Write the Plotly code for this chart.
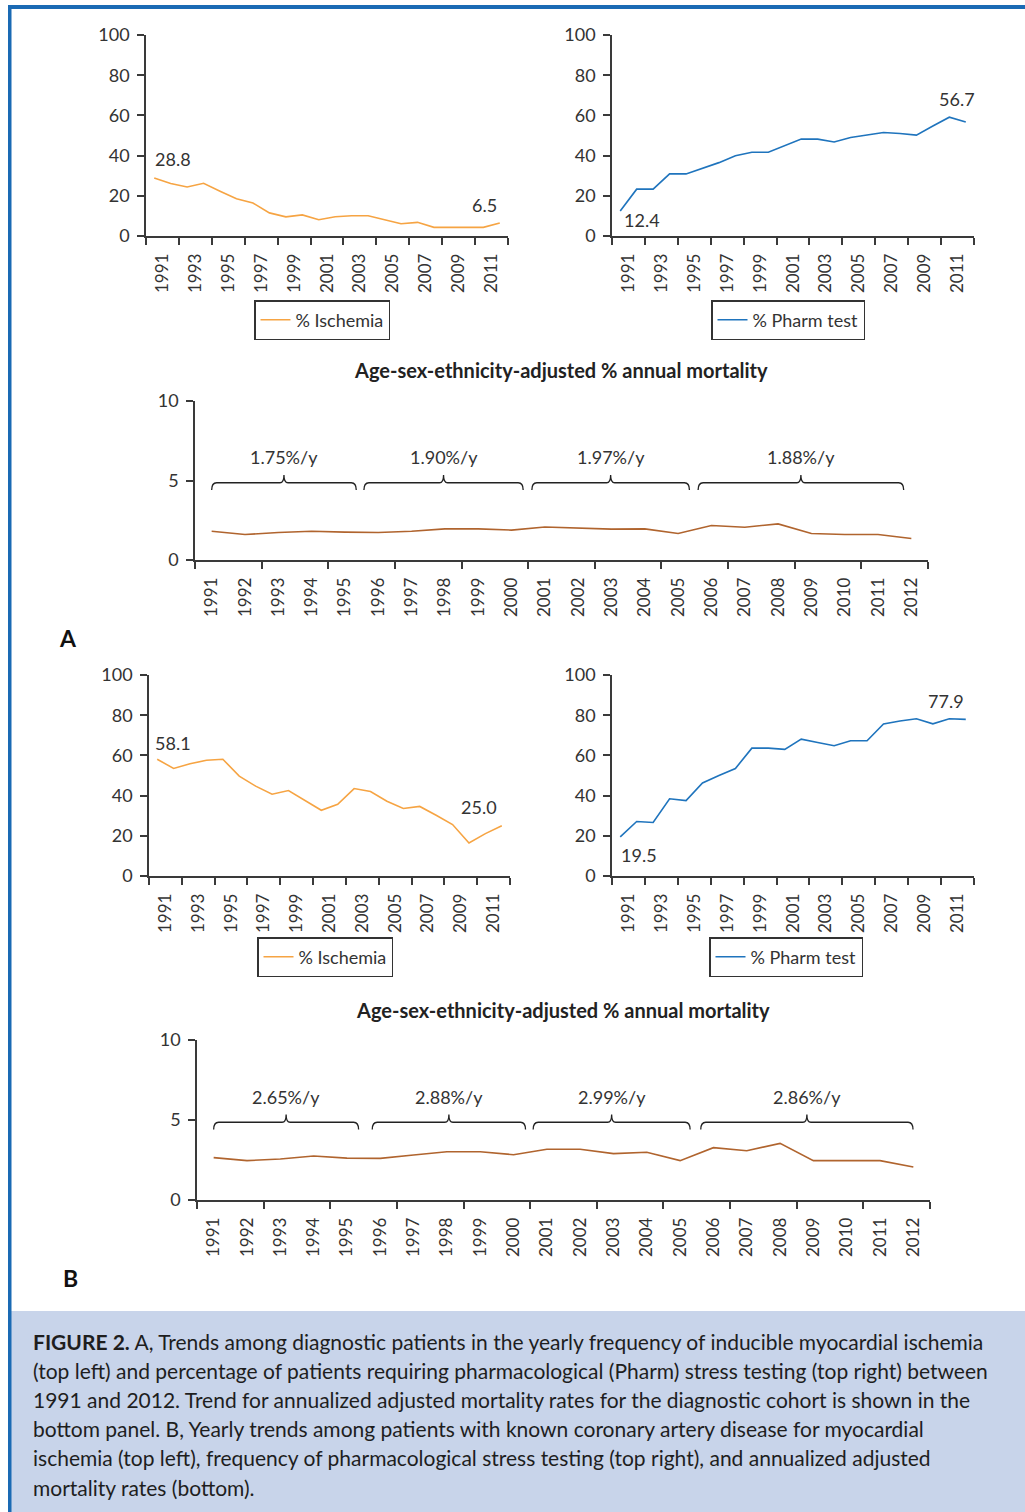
import plotly.graph_objects as go

# ---------------- data ----------------
years = list(range(1991, 2013))

ischemia_A = [28.8, 26.1, 24.4, 26.2, 22.3, 18.5, 16.4, 11.5, 9.5, 10.5, 8.1,
              9.6, 10.1, 10.1, 8.1, 6.1, 6.8, 4.3, 4.3, 4.3, 4.3, 6.5]
pharm_A = [12.4, 23.3, 23.3, 30.9, 30.9, 33.7, 36.5, 39.9, 41.7, 41.7, 44.9,
           48.2, 48.2, 46.8, 49.0, 50.2, 51.5, 51.0, 50.2, 54.7, 59.1, 56.7]
mortality_A = [1.81, 1.60, 1.73, 1.81, 1.75, 1.73, 1.81, 1.96, 1.96, 1.88, 2.08,
               2.02, 1.94, 1.96, 1.67, 2.17, 2.06, 2.27, 1.67, 1.60, 1.60, 1.35]

ischemia_B = [58.1, 53.5, 55.8, 57.6, 58.1, 49.7, 44.7, 40.7, 42.5, 37.7, 32.7,
              35.7, 43.5, 42.0, 37.2, 33.6, 34.6, 30.2, 25.6, 16.4, 21.1, 25.0]
pharm_B = [19.5, 27.1, 26.6, 38.4, 37.5, 46.3, 50.0, 53.5, 63.6, 63.6, 63.0,
           68.1, 66.4, 64.8, 67.3, 67.3, 75.6, 77.1, 78.2, 75.7, 78.2, 77.9]
mortality_B = [2.65, 2.46, 2.56, 2.75, 2.62, 2.60, 2.81, 3.02, 3.02, 2.83, 3.17,
               3.17, 2.90, 2.98, 2.46, 3.27, 3.08, 3.54, 2.46, 2.46, 2.46, 2.06]

period_rates_A = ["1.75%/y", "1.90%/y", "1.97%/y", "1.88%/y"]
period_rates_B = ["2.65%/y", "2.88%/y", "2.99%/y", "2.86%/y"]

top_tick_labels = [str(y) for y in range(1991, 2013, 2)]
mort_tick_labels = [str(y) for y in years]

caption_lines = [
    "<b>FIGURE 2.</b> A, Trends among diagnostic patients in the yearly frequency of inducible myocardial ischemia",
    "(top left) and percentage of patients requiring pharmacological (Pharm) stress testing (top right) between",
    "1991 and 2012. Trend for annualized adjusted mortality rates for the diagnostic cohort is shown in the",
    "bottom panel. B, Yearly trends among patients with known coronary artery disease for myocardial",
    "ischemia (top left), frequency of pharmacological stress testing (top right), and annualized adjusted",
    "mortality rates (bottom).",
]

# ---------------- style ----------------
W, H = 1025, 1512
FONT = "Lato"
TXT = "#333333"
AX = "#3a3a3a"
ORANGE = "#f6a443"
BLUE = "#1f74bd"
BROWN = "#b0642e"
FRAME = "#1a6ab4"
CAPBG = "#c8d4ea"


def px(x):
    return x / W


def py(y):
    return 1 - y / H


fig = go.Figure()

panels = {
    "1": dict(xd=(146, 508), yd=(236, 35), yr=[0, 100], kind="top"),
    "2": dict(xd=(612, 974), yd=(236, 35), yr=[0, 100], kind="top"),
    "3": dict(xd=(195, 928), yd=(560, 401), yr=[0, 10], kind="mort"),
    "4": dict(xd=(149, 510), yd=(876, 675), yr=[0, 100], kind="top"),
    "5": dict(xd=(612, 974), yd=(876, 675), yr=[0, 100], kind="top"),
    "6": dict(xd=(197, 930), yd=(1200, 1040), yr=[0, 10], kind="mort"),
}

boundaries = [1990.5 + 2 * k for k in range(12)]

layout_axes = {}
for k, p in panels.items():
    xname = "xaxis" if k == "1" else "xaxis" + k
    yname = "yaxis" if k == "1" else "yaxis" + k
    anchor_y = "y" if k == "1" else "y" + k
    anchor_x = "x" if k == "1" else "x" + k
    if p["kind"] == "top":
        tv = [y + 0.5 for y in range(1991, 2013, 2)]
        tt = top_tick_labels
        yt = [0, 20, 40, 60, 80, 100]
    else:
        tv = years
        tt = mort_tick_labels
        yt = [0, 5, 10]
    layout_axes[xname] = dict(
        domain=[px(p["xd"][0]), px(p["xd"][1])], anchor=anchor_y, automargin=False,
        range=[1990.5, 2012.5], showline=True, linecolor=AX, linewidth=1.5,
        showgrid=False, zeroline=False, tickmode="array", tickvals=tv,
        ticktext=tt, ticks="", tickangle=-90, ticklabelstandoff=9,
        tickfont=dict(family=FONT, size=17, color=TXT),
        minor=dict(tickmode="array", tickvals=boundaries, ticks="outside",
                   ticklen=7, tickwidth=1.5, tickcolor=AX, showgrid=False),
    )
    layout_axes[yname] = dict(
        domain=[py(p["yd"][0]), py(p["yd"][1])], anchor=anchor_x, automargin=False,
        range=p["yr"], showline=True, linecolor=AX, linewidth=1.5,
        showgrid=False, zeroline=False, tickmode="array", tickvals=yt,
        ticks="outside", ticklen=7, tickwidth=1.5, tickcolor=AX,
        ticklabelstandoff=4,
        tickfont=dict(family=FONT, size=18, color=TXT),
    )

series = [
    ("1", ischemia_A, ORANGE, "% Ischemia", "legend"),
    ("2", pharm_A, BLUE, "% Pharm test", "legend2"),
    ("3", mortality_A, BROWN, None, None),
    ("4", ischemia_B, ORANGE, "% Ischemia", "legend3"),
    ("5", pharm_B, BLUE, "% Pharm test", "legend4"),
    ("6", mortality_B, BROWN, None, None),
]
for k, vals, col, name, leg in series:
    xa = "x" if k == "1" else "x" + k
    ya = "y" if k == "1" else "y" + k
    tr = go.Scatter(x=years, y=vals, mode="lines", line=dict(color=col, width=1.6),
                    xaxis=xa, yaxis=ya, hoverinfo="skip",
                    name=name if name else "", showlegend=bool(name))
    if leg:
        tr.legend = leg
    fig.add_trace(tr)

annotations = []
end_labels = [
    ("1", ischemia_A, (0, "left", -1, 19), (-1, "center", -15, 18)),
    ("2", pharm_A, (0, "left", 2, -9), (-1, "center", -9, 23)),
    ("4", ischemia_B, (0, "left", -4, 16), (-1, "center", -23, 19)),
    ("5", pharm_B, (0, "left", -1, -18), (-1, "center", -20, 18)),
]
for k, vals, first, last in end_labels:
    xa = "x" if k == "1" else "x" + k
    ya = "y" if k == "1" else "y" + k
    for idx, xanc, xs, ys in (first, last):
        annotations.append(dict(
            x=years[idx], y=vals[idx], xref=xa, yref=ya, text=f"{vals[idx]:.1f}",
            showarrow=False, xanchor=xanc, yanchor="middle", xshift=xs, yshift=ys,
            font=dict(family=FONT, size=18, color=TXT)))

bracket_spans = {
    "3": [(1991.0, 1995.34), (1995.57, 2000.35), (2000.61, 2005.34), (2005.6, 2011.77)],
    "6": [(1991.0, 1995.35), (1995.76, 2000.36), (2000.59, 2005.3), (2005.62, 2011.99)],
}
rates = {"3": period_rates_A, "6": period_rates_B}
bracket_shapes = []
for k, spans in bracket_spans.items():
    xa, ya = "x" + k, "y" + k
    ytop, yend, ymid = 4.86, 4.4, 5.35
    for (x0, x1), lab in zip(spans, rates[k]):
        xm = (x0 + x1) / 2
        path = (f"M {x0},{yend} Q {x0},{ytop} {x0+0.15},{ytop} "
                f"L {xm-0.12},{ytop} Q {xm},{ytop} {xm},{ymid} "
                f"Q {xm},{ytop} {xm+0.12},{ytop} "
                f"L {x1-0.15},{ytop} Q {x1},{ytop} {x1},{yend}")
        bracket_shapes.append(dict(type="path", path=path, xref=xa, yref=ya,
                                   line=dict(color="#222222", width=1.3)))
        annotations.append(dict(x=xm, y=6.45, xref=xa, yref=ya, text=lab,
                                showarrow=False, xanchor="center", yanchor="middle",
                                font=dict(family=FONT, size=18, color=TXT)))

for (xc, yc) in [(561, 370), (563, 1010)]:
    annotations.append(dict(x=px(xc), y=py(yc), xref="paper", yref="paper",
                            text="<b>Age-sex-ethnicity-adjusted % annual mortality</b>",
                            showarrow=False, xanchor="center", yanchor="middle",
                            font=dict(family=FONT, size=20, color="#222222")))

for lab, (xc, yc) in [("A", (68, 638)), ("B", (70, 1278))]:
    annotations.append(dict(x=px(xc), y=py(yc), xref="paper", yref="paper",
                            text=f"<b>{lab}</b>", showarrow=False, xanchor="center",
                            yanchor="middle", font=dict(family=FONT, size=23, color="#111111")))

for i, line in enumerate(caption_lines):
    annotations.append(dict(x=px(31), y=py(1341 + i * 29.2), xref="paper", yref="paper",
                            text=line, showarrow=False, xanchor="left", yanchor="middle",
                            font=dict(family=FONT, size=21, color="#1e1e1e")))

shapes = [
    dict(type="rect", xref="paper", yref="paper", x0=px(10), x1=1, y0=0, y1=py(1311),
         fillcolor=CAPBG, line=dict(width=0), layer="below"),
    dict(type="rect", xref="paper", yref="paper", x0=px(8), x1=1, y0=py(9), y1=py(5),
         fillcolor=FRAME, line=dict(width=0)),
    dict(type="rect", xref="paper", yref="paper", x0=px(8), x1=px(11.5), y0=0, y1=py(5),
         fillcolor=FRAME, line=dict(width=0)),
] + bracket_shapes

legend_common = dict(xanchor="left", yanchor="top", bgcolor="white",
                     bordercolor="#333333", borderwidth=1.5,
                     font=dict(family=FONT, size=18, color=TXT),
                     itemwidth=30, tracegroupgap=0)

fig.update_layout(
    template="none",
    width=W, height=H, autosize=False,
    margin=dict(l=0, r=0, t=0, b=0, pad=0, autoexpand=False),
    paper_bgcolor="white", plot_bgcolor="white",
    font=dict(family=FONT, color=TXT),
    annotations=annotations, shapes=shapes,
    legend=dict(x=px(254), y=py(300), **legend_common),
    legend2=dict(x=px(711), y=py(300), **legend_common),
    legend3=dict(x=px(257), y=py(937), **legend_common),
    legend4=dict(x=px(709), y=py(937), **legend_common),
    **layout_axes,
)

fig.write_html("out.html", config={"displayModeBar": False},
               post_script="document.body.style.margin='0';document.body.style.overflow='hidden';")
